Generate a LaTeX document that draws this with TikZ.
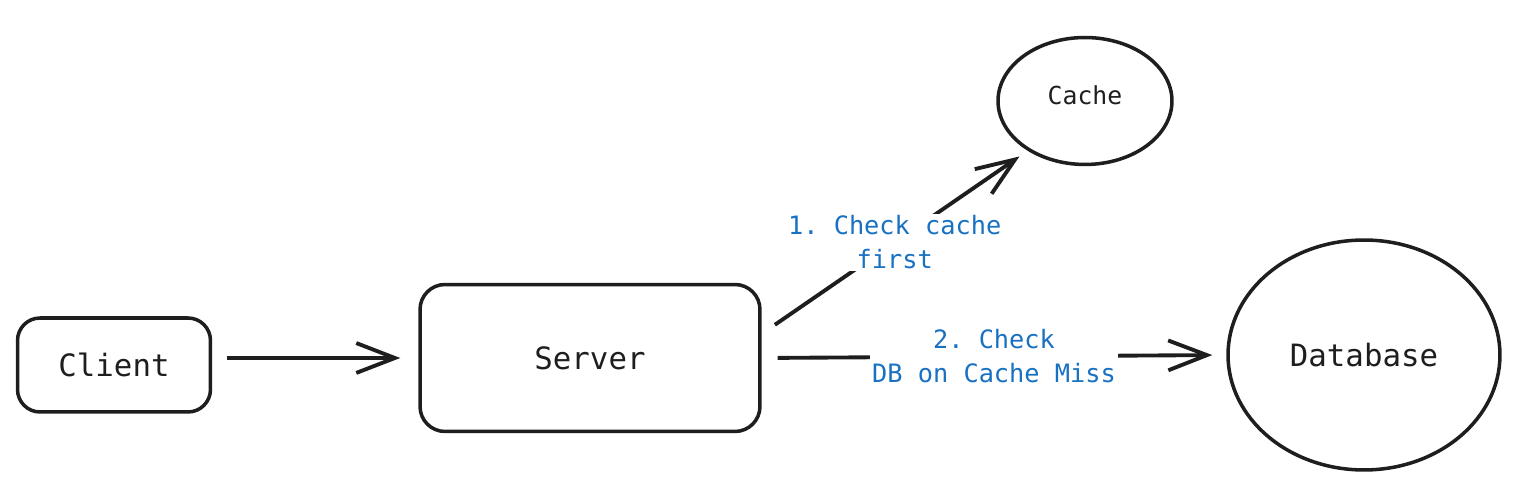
\documentclass[tikz,border=0pt]{standalone}
\usepackage{fontspec}
\setmonofont{DejaVu Sans Mono}
\usetikzlibrary{arrows.meta,shapes.geometric}
\definecolor{ink}{HTML}{1E1E1E}
\definecolor{note}{HTML}{1971C2}

\begin{document}
\begin{tikzpicture}[x=0.02cm,y=-0.02cm,>={Straight Barb[length=22pt,width=17pt,line width=2.2pt]},
  box/.style={draw=ink,line width=2pt,rounded corners=0.45cm,font=\ttfamily\fontsize{17.5}{20}\selectfont,text=ink},
  blob/.style={draw=ink,line width=2pt,ellipse,inner sep=0pt,font=\ttfamily\fontsize{17.5}{20}\selectfont,text=ink},
  arr/.style={draw=ink,line width=2.2pt,->},
  lbl/.style={fill=white,inner sep=1pt,align=center,text=note,font=\ttfamily\fontsize{14.4}{19.3}\selectfont}]
\useasboundingbox (0,0) rectangle (1516,492);
\node[box,minimum width=3.86cm,minimum height=1.88cm] (client) at (114,365) {Client};
\node[box,minimum width=6.8cm,minimum height=2.94cm,rounded corners=0.5cm] (server) at (590,358) {Server};
\node[blob,minimum width=3.48cm,minimum height=2.54cm,font=\ttfamily\fontsize{14.1}{17}\selectfont] (cache) at (1085,101) {\raisebox{0.24cm}{Cache}};
\node[blob,minimum width=5.44cm,minimum height=4.6cm] (db) at (1364,355) {Database};
\draw[arr,shorten <=0.3cm,shorten >=0.36cm] (client.east |- server.west) -- (server.west);
\draw[arr,shorten <=0.32cm,shorten >=0.2cm] (server.8) -- (cache.221)
  node[lbl,midway] {1. Check cache\\first};
\draw[arr,shorten <=0.32cm,shorten >=0.28cm] (server.east) -- (db.west)
  node[lbl,midway] {2. Check\\DB on Cache Miss};
\end{tikzpicture}
\end{document}
